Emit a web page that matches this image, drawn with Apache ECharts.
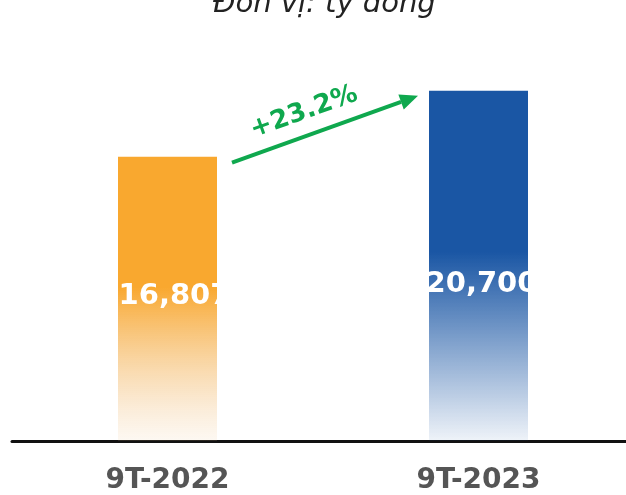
<!DOCTYPE html>
<html>
<head>
<meta charset="utf-8">
<script src="https://cdn.jsdelivr.net/npm/echarts@6/dist/echarts.min.js"></script>
<style>
  html, body { margin: 0; padding: 0; background: #fff; }
  #chart { width: 626px; height: 495px; }
</style>
</head>
<body>
<div id="chart"></div>
<script>
// data
var categories = ['9T-2022', '9T-2023'];
var values = [16807, 20700];
var barColors = ['#F9A82F', '#1A56A4'];
var fadeColors = ['rgba(240,200,150,0.12)', 'rgba(26,86,164,0.07)'];
var growthText = '+23.2%';
var unitText = 'Đơn vị: tỷ đồng';

var myChart = echarts.init(document.getElementById('chart'));

var labelOffsets = [[7, -2], [3, 19]];

var barData = values.map(function (v, i) {
    return {
        value: v,
        itemStyle: {
            color: new echarts.graphic.LinearGradient(0, 0, 0, 1, [
                {offset: 0, color: barColors[i]},
                {offset: 0.46, color: barColors[i]},
                {offset: 1, color: fadeColors[i]}
            ])
        },
        label: {offset: labelOffsets[i]}
    };
});

var option = {
    animation: false,
    title: {
        text: unitText,
        left: 213,
        top: -10,
        padding: 0,
        textStyle: {
            fontFamily: 'DejaVu Sans',
            fontStyle: 'italic',
            fontWeight: 'normal',
            fontSize: 29,
            color: '#222'
        }
    },
    grid: {left: 12, width: 622, top: 35, bottom: 54, outerBoundsMode: 'none', containLabel: false},
    xAxis: {
        type: 'category',
        data: categories,
        axisLine: {lineStyle: {color: '#111', width: 3}},
        axisTick: {show: false},
        axisLabel: {
            margin: 26,
            fontFamily: 'DejaVu Sans',
            fontWeight: 'bold',
            fontSize: 28,
            color: '#555'
        }
    },
    yAxis: {
        type: 'value',
        min: 0,
        max: 24000,
        show: false
    },
    series: [{
        type: 'bar',
        barWidth: 99,
        data: barData,
        label: {
            show: true,
            position: 'inside',
            color: '#fff',
            fontFamily: 'DejaVu Sans',
            fontWeight: 'bold',
            fontSize: 29,
            formatter: function (p) {
                return p.value.toLocaleString('en-US');
            }
        }
    }]
};

myChart.setOption(option);

// growth arrow between the two bar tops
var p1 = myChart.convertToPixel({seriesIndex: 0}, [0, values[0]]);
var p2 = myChart.convertToPixel({seriesIndex: 0}, [1, values[1]]);
var half = 99 / 2;
var x1 = p1[0] + half + 15, y1 = p1[1] + 6;
var x2 = p2[0] - half - 11, y2 = p2[1] + 5;
var ang = Math.atan2(y2 - y1, x2 - x1);
var headLen = 18, headW = 8;
var bx = x2 - headLen * Math.cos(ang), by = y2 - headLen * Math.sin(ang);
var green = '#0FA84E';

myChart.setOption({
    graphic: [
        {
            type: 'line',
            shape: {x1: x1, y1: y1, x2: bx, y2: by},
            style: {stroke: green, lineWidth: 4}
        },
        {
            type: 'polygon',
            shape: {points: [
                [x2, y2],
                [bx + headW * Math.sin(ang), by - headW * Math.cos(ang)],
                [bx - headW * Math.sin(ang), by + headW * Math.cos(ang)]
            ]},
            style: {fill: green}
        },
        {
            type: 'text',
            x: (x1 + x2) / 2 - 21,
            y: (y1 + y2) / 2 - 17,
            rotation: -ang,
            style: {
                text: growthText,
                fill: green,
                font: 'bold 26px "DejaVu Sans"',
                align: 'center',
                verticalAlign: 'middle'
            }
        }
    ]
});
</script>
</body>
</html>
